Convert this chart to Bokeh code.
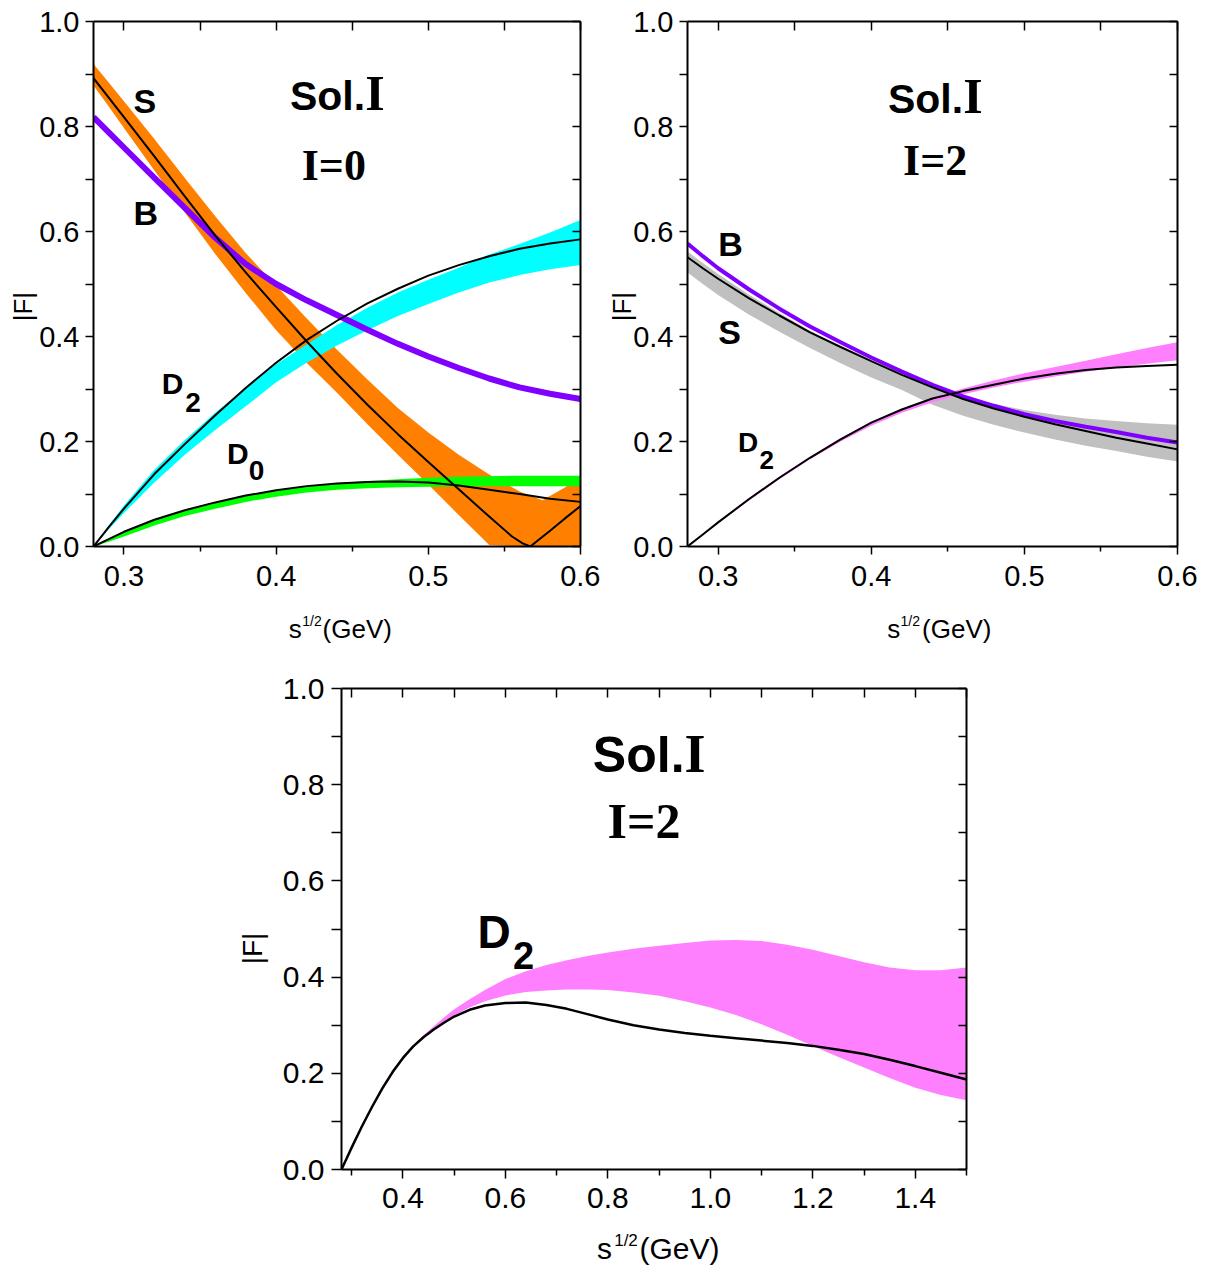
from math import pi
from bokeh.plotting import figure
from bokeh.models import (Range1d, FixedTicker, LinearAxis, NumeralTickFormatter,
                          Label, CustomJSTickFormatter)
from bokeh.layouts import column, row
from bokeh.embed import file_html
from bokeh.resources import INLINE

# ---------------- data ----------------
# top-left panel (I=0)
TL_X = [0.28, 0.29, 0.30, 0.32, 0.34, 0.36, 0.38, 0.40, 0.42, 0.44, 0.46, 0.48, 0.50, 0.52, 0.54, 0.56, 0.58, 0.60]
TL_D2_TOP = [0.000, 0.040, 0.078, 0.146, 0.203, 0.255, 0.302, 0.347, 0.385, 0.422, 0.455, 0.484, 0.508, 0.531, 0.556, 0.576, 0.598, 0.622]
TL_D2_BOT = [0.000, 0.033, 0.064, 0.122, 0.175, 0.222, 0.267, 0.313, 0.350, 0.383, 0.412, 0.439, 0.462, 0.484, 0.503, 0.517, 0.528, 0.536]
TL_D2_FIT = [0.000, 0.037, 0.072, 0.138, 0.195, 0.250, 0.302, 0.350, 0.393, 0.430, 0.463, 0.491, 0.516, 0.536, 0.553, 0.567, 0.577, 0.585]
TL_D0_TOP = [0.000, 0.013, 0.027, 0.050, 0.069, 0.084, 0.097, 0.107, 0.115, 0.121, 0.125, 0.128, 0.131, 0.133, 0.134, 0.135, 0.135, 0.135]
TL_D0_BOT = [0.000, 0.009, 0.019, 0.040, 0.058, 0.072, 0.085, 0.095, 0.103, 0.108, 0.111, 0.113, 0.114, 0.115, 0.115, 0.115, 0.115, 0.115]
TL_D0_FIT = [0.000, 0.014, 0.028, 0.051, 0.069, 0.084, 0.097, 0.107, 0.115, 0.120, 0.123, 0.124, 0.122, 0.116, 0.108, 0.100, 0.091, 0.085]
TL_B = [0.818, 0.789, 0.760, 0.702, 0.645, 0.588, 0.538, 0.500, 0.469, 0.441, 0.413, 0.386, 0.362, 0.340, 0.320, 0.303, 0.291, 0.281]
TL_SX = [0.28, 0.29, 0.30, 0.32, 0.34, 0.36, 0.38, 0.40, 0.42, 0.44, 0.46, 0.48, 0.50, 0.52, 0.54, 0.56, 0.575, 0.59, 0.60]
TL_S_TOP = [0.919, 0.884, 0.848, 0.776, 0.702, 0.629, 0.559, 0.497, 0.435, 0.375, 0.318, 0.264, 0.217, 0.175, 0.137, 0.105, 0.088, 0.113, 0.135]
TL_S_BOT = [0.878, 0.838, 0.797, 0.716, 0.636, 0.557, 0.483, 0.412, 0.350, 0.293, 0.233, 0.175, 0.118, 0.060, 0.003, 0.000, 0.000, 0.000, 0.000]
TL_SFX = [0.28, 0.29, 0.30, 0.32, 0.34, 0.36, 0.38, 0.40, 0.42, 0.44, 0.46, 0.48, 0.50, 0.52, 0.54, 0.555, 0.562, 0.567, 0.58, 0.59, 0.60]
TL_S_FIT = [0.892, 0.855, 0.818, 0.743, 0.667, 0.592, 0.522, 0.456, 0.391, 0.329, 0.270, 0.214, 0.161, 0.109, 0.057, 0.019, 0.006, 0.000, 0.030, 0.054, 0.077]

# top-right panel (I=2)
TR_X = [0.28, 0.29, 0.30, 0.32, 0.34, 0.36, 0.38, 0.40, 0.42, 0.44, 0.46, 0.48, 0.50, 0.52, 0.54, 0.56, 0.58, 0.60]
TR_B = [0.577, 0.553, 0.530, 0.490, 0.453, 0.419, 0.389, 0.360, 0.333, 0.308, 0.286, 0.268, 0.252, 0.239, 0.228, 0.218, 0.207, 0.198]
TR_S_FIT = [0.551, 0.530, 0.510, 0.473, 0.440, 0.408, 0.380, 0.353, 0.327, 0.303, 0.281, 0.263, 0.247, 0.233, 0.220, 0.207, 0.196, 0.185]
TR_S_TOP = [0.562, 0.540, 0.519, 0.480, 0.445, 0.411, 0.381, 0.353, 0.327, 0.305, 0.287, 0.272, 0.260, 0.251, 0.244, 0.239, 0.235, 0.232]
TR_S_BOT = [0.522, 0.500, 0.479, 0.442, 0.409, 0.378, 0.349, 0.322, 0.298, 0.270, 0.249, 0.232, 0.217, 0.204, 0.192, 0.182, 0.171, 0.162]
TR_D2_TOP = [0.000, 0.024, 0.047, 0.091, 0.133, 0.171, 0.206, 0.237, 0.263, 0.284, 0.301, 0.316, 0.330, 0.342, 0.354, 0.366, 0.378, 0.389]
TR_D2_BOT = [0.000, 0.022, 0.044, 0.087, 0.128, 0.166, 0.200, 0.230, 0.255, 0.275, 0.290, 0.303, 0.314, 0.324, 0.333, 0.341, 0.348, 0.355]
TR_D2_FIT = [0.000, 0.023, 0.046, 0.090, 0.131, 0.169, 0.204, 0.236, 0.261, 0.282, 0.296, 0.308, 0.320, 0.329, 0.336, 0.341, 0.344, 0.346]

# bottom panel (I=2, D2 up to 1.5 GeV)
BT_X = [0.28, 0.29, 0.30, 0.32, 0.34, 0.36, 0.38, 0.40, 0.42, 0.44, 0.46, 0.48, 0.50, 0.53, 0.56, 0.60,
        0.64, 0.68, 0.72, 0.76, 0.80, 0.85, 0.90, 0.95, 1.00, 1.05, 1.10, 1.15, 1.20, 1.25, 1.30, 1.35,
        1.40, 1.45, 1.50]
BT_FIT = [0.000, 0.023, 0.046, 0.090, 0.131, 0.169, 0.203, 0.232, 0.256, 0.275, 0.291, 0.305, 0.318, 0.332,
          0.341, 0.346, 0.347, 0.342, 0.334, 0.323, 0.312, 0.300, 0.291, 0.284, 0.278, 0.273, 0.268, 0.263,
          0.257, 0.249, 0.240, 0.228, 0.215, 0.201, 0.187]
BT_TOP = [0.000, 0.023, 0.046, 0.090, 0.131, 0.169, 0.203, 0.233, 0.258, 0.279, 0.298, 0.316, 0.333, 0.354,
          0.373, 0.396, 0.412, 0.425, 0.435, 0.444, 0.451, 0.459, 0.465, 0.471, 0.476, 0.477, 0.475, 0.467,
          0.457, 0.444, 0.431, 0.420, 0.414, 0.414, 0.420]
BT_BOT = [0.000, 0.022, 0.044, 0.087, 0.127, 0.164, 0.198, 0.228, 0.253, 0.273, 0.290, 0.306, 0.320, 0.337,
          0.350, 0.362, 0.369, 0.372, 0.374, 0.374, 0.373, 0.368, 0.361, 0.350, 0.337, 0.321, 0.302, 0.280,
          0.257, 0.234, 0.212, 0.190, 0.170, 0.155, 0.144]

Y_TICKS = [0.0, 0.2, 0.4, 0.6, 0.8, 1.0]
Y_MINOR = [0.1, 0.3, 0.5, 0.7, 0.9]
TOP_X_TICKS = [0.3, 0.4, 0.5, 0.6]
TOP_X_MINOR = [0.35, 0.45, 0.55]
BOT_X_TICKS = [0.4, 0.6, 0.8, 1.0, 1.2, 1.4]
BOT_X_MINOR = [0.3, 0.5, 0.7, 0.9, 1.1, 1.3, 1.5]

# ---------------- style ----------------
SANS = "'Liberation Sans', Arial, sans-serif"
SERIF = "'Liberation Serif', 'Times New Roman', serif"
ORANGE = "#FF8000"
CYAN = "#00FFFF"
GREEN = "#00FF00"
PURPLE = "#8000FF"
GRAY = "#C0C0C0"
PINK = "#FF80FF"


def make_panel(fw, fh, bl, br, bt, bb, xr, xt, xm, tick_size,
               lt_out, lt_std, bt_out, bt_min, bt_std):
    p = figure(frame_width=fw, frame_height=fh, x_range=Range1d(*xr), y_range=Range1d(0, 1),
               output_backend="svg", toolbar_location=None,
               min_border_left=bl, min_border_right=br, min_border_top=bt, min_border_bottom=bb)
    p.xgrid.visible = False
    p.ygrid.visible = False
    p.outline_line_color = None
    xticker = FixedTicker(ticks=xt, minor_ticks=xm)
    yticker = FixedTicker(ticks=Y_TICKS, minor_ticks=Y_MINOR)

    xa = p.xaxis[0]
    xa.ticker = xticker
    xa.formatter = NumeralTickFormatter(format="0.0")
    ya = p.yaxis[0]
    ya.ticker = yticker
    ya.formatter = NumeralTickFormatter(format="0.0")
    for ax in (xa, ya):
        ax.axis_line_width = 2
        ax.axis_line_color = "black"
        ax.major_tick_line_width = 1.5
        ax.minor_tick_line_width = 1.5
        ax.major_tick_line_color = "black"
        ax.minor_tick_line_color = "black"
        ax.major_tick_in = 0
        ax.minor_tick_in = 0
        ax.major_label_text_font = SANS
        ax.major_label_text_font_size = tick_size
        ax.major_label_text_color = "black"
        ax.axis_label = None
    ya.major_tick_out = lt_out
    ya.minor_tick_out = lt_out
    ya.major_label_standoff = lt_std
    xa.major_tick_out = bt_out
    xa.minor_tick_out = bt_min
    xa.major_label_standoff = bt_std

    for side, tk, tin in (("above", xticker, 9), ("right", yticker, 8)):
        ax = LinearAxis(ticker=tk, formatter=CustomJSTickFormatter(code="return ''"))
        ax.axis_line_width = 2
        ax.axis_line_color = "black"
        ax.major_tick_line_width = 1.5
        ax.minor_tick_line_width = 1.5
        ax.major_tick_in = tin
        ax.major_tick_out = 0
        ax.minor_tick_in = tin
        ax.minor_tick_out = 0
        ax.major_label_standoff = 0
        ax.major_label_text_font_size = "1px"
        p.add_layout(ax, side)
    return p


def lab(p, x, yb, text, font, size, scale, style="bold", align="left", place=None):
    # yb is the wanted text baseline (data units); label is anchored at its middle
    y = yb + 0.35 * size / scale
    lbl = Label(x=x, y=y, text=text, text_font=font, text_font_size=f"{size}px",
                text_font_style=style, text_align=align, text_baseline="middle",
                text_color="black")
    if place is None:
        p.add_layout(lbl)
    else:
        p.add_layout(lbl, place)


def xlabel(p, xs, ybase, ysup, size_main, size_sup, scale, place):
    lab(p, xs[0], ybase, "s", SANS, size_main, scale, style="normal", place=place)
    lab(p, xs[1], ysup, "1/2", SANS, size_sup, scale, style="normal", place=place)
    lab(p, xs[2], ybase, "(GeV)", SANS, size_main, scale, style="normal", place=place)


def ylabel(p, x, y, size):
    p.add_layout(Label(x=x, y=y, text="|F|", text_font=SANS, text_font_size=f"{size}px",
                       text_align="center", text_baseline="middle", text_color="black",
                       angle=pi / 2), "left")


TS = 525.0   # px per unit y, top panels
BS = 481.0   # px per unit y, bottom panel

# ---------------- top-left ----------------
p1 = make_panel(487, 525, 93, 20, 21, 125, (0.28, 0.6), TOP_X_TICKS, TOP_X_MINOR,
                "29px", 8, 6, 8, 5, 11)
p1.varea(x=TL_SX, y1=TL_S_BOT, y2=TL_S_TOP, fill_color=ORANGE)
p1.varea(x=TL_X, y1=TL_D2_BOT, y2=TL_D2_TOP, fill_color=CYAN)
p1.varea(x=TL_X, y1=TL_D0_BOT, y2=TL_D0_TOP, fill_color=GREEN)
p1.line(TL_X, TL_B, line_color=PURPLE, line_width=6)
p1.line(TL_X, TL_D2_FIT, line_color="black", line_width=2)
p1.line(TL_X, TL_D0_FIT, line_color="black", line_width=2)
p1.line(TL_SFX, TL_S_FIT, line_color="black", line_width=2)

lab(p1, 0.4585, 0.8305, "Sol.", SANS, 41, TS, align="right")
lab(p1, 0.4585, 0.8305, "I", SERIF, 50, TS)
lab(p1, 0.4379, 0.697, "I=0", SERIF, 44, TS, align="center")
lab(p1, 0.3063, 0.8267, "S", SANS, 34, TS)
lab(p1, 0.3063, 0.6133, "B", SANS, 34, TS)
lab(p1, 0.3249, 0.2909, "D", SANS, 30, TS)
lab(p1, 0.3403, 0.2558, "2", SANS, 28, TS)
lab(p1, 0.3677, 0.1575, "D", SANS, 30, TS)
lab(p1, 0.3820, 0.1257, "0", SANS, 28, TS)
xlabel(p1, (0.4083, 0.4172, 0.4305), -0.1752, -0.1505, 26, 14, TS, "below")
ylabel(p1, 0.2339, 0.457, 26)

# ---------------- top-right ----------------
p2 = make_panel(490, 525, 86, 24, 21, 125, (0.28, 0.6), TOP_X_TICKS, TOP_X_MINOR,
                "29px", 8, 6, 8, 5, 11)
p2.varea(x=TR_X, y1=TR_S_BOT, y2=TR_S_TOP, fill_color=GRAY)
p2.varea(x=TR_X, y1=TR_D2_BOT, y2=TR_D2_TOP, fill_color=PINK)
p2.line(TR_X, TR_B, line_color=PURPLE, line_width=4)
p2.line(TR_X, TR_S_FIT, line_color="black", line_width=2)
p2.line(TR_X, TR_D2_FIT, line_color="black", line_width=2)

lab(p2, 0.4600, 0.8254, "Sol.", SANS, 41, TS, align="right")
lab(p2, 0.4600, 0.8254, "I", SERIF, 50, TS)
lab(p2, 0.4417, 0.7067, "I=2", SERIF, 44, TS, align="center")
lab(p2, 0.300, 0.554, "B", SANS, 34, TS)
lab(p2, 0.300, 0.3867, "S", SANS, 34, TS)
lab(p2, 0.313, 0.180, "D", SANS, 28, TS)
lab(p2, 0.3271, 0.148, "2", SANS, 26, TS)
xlabel(p2, (0.4104, 0.4191, 0.4332), -0.1752, -0.1505, 26, 14, TS, "below")
ylabel(p2, 0.2375, 0.457, 26)

# ---------------- bottom ----------------
p3 = make_panel(625, 481, 341, 40, 17, 100, (0.28, 1.5), BOT_X_TICKS, BOT_X_MINOR,
                "30px", 10, 7, 9, 6, 9)
p3.varea(x=BT_X, y1=BT_BOT, y2=BT_TOP, fill_color=PINK)
p3.line(BT_X, BT_FIT, line_color="black", line_width=2.5)

lab(p3, 0.9496, 0.8254, "Sol.", SANS, 50, BS, align="right")
lab(p3, 0.9496, 0.8254, "I", SERIF, 54, BS)
lab(p3, 0.8705, 0.688, "I=2", SERIF, 50, BS, align="center")
lab(p3, 0.5455, 0.4595, "D", SANS, 46, BS)
lab(p3, 0.6150, 0.418, "2", SANS, 38, BS)
xlabel(p3, (0.7787, 0.8123, 0.8617), -0.1871, -0.1595, 30, 17, BS, "left")
ylabel(p3, 0.1063, 0.4595, 28)

layout = column(row(p1, p2), p3)
open("out.html", "w").write(file_html(layout, INLINE))
